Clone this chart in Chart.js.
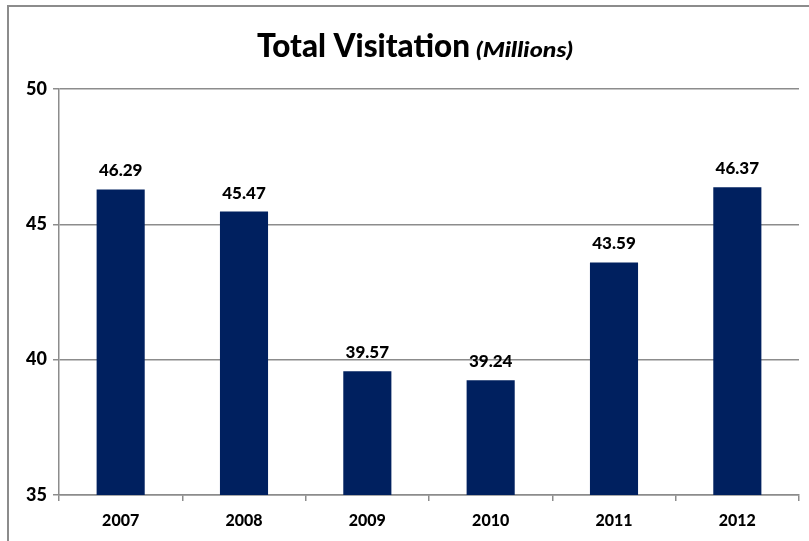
<!DOCTYPE html>
<html>
<head>
<meta charset="utf-8">
<script src="https://cdn.jsdelivr.net/npm/chart.js@4"></script>
<style>
  html, body { margin: 0; padding: 0; background: #fff; }
  #wrap { position: relative; width: 809px; height: 541px; overflow: hidden; }
  #frame { position: absolute; left: 7px; top: 5px; right: -5px; bottom: -5px;
           border-top: 2px solid #8c8c8c; border-left: 2px solid #8c8c8c; }
  canvas { position: absolute; left: 0; top: 0; }
</style>
</head>
<body>
<div id="wrap">
  <div id="frame"></div>
  <canvas id="visitChart" width="809" height="541"></canvas>
</div>
<script>
// chart data
const years = ['2007', '2008', '2009', '2010', '2011', '2012'];
const visitors = [46.29, 45.47, 39.57, 39.24, 43.59, 46.37];
const yTicks = [35, 40, 45, 50];

const FONT = 'Lato, Calibri, "Open Sans", sans-serif';

// title with the italic "(Millions)" part, drawn on the canvas
const titlePlugin = {
    id: 'mixedTitle',
    afterDraw(chart) {
        const ctx = chart.ctx;
        ctx.save();
        ctx.fillStyle = '#000';
        ctx.textBaseline = 'alphabetic';
        // main part
        ctx.font = '900 32px ' + FONT;
        const mainW = ctx.measureText('Total Visitation').width;
        ctx.save();
        ctx.translate(257, 57);
        ctx.scale(213 / mainW, 1);
        ctx.fillText('Total Visitation', 0, 0);
        ctx.restore();
        // italic part, a bit wider like the original
        ctx.font = 'italic 900 21px ' + FONT;
        const subW = ctx.measureText('(Millions)').width;
        ctx.save();
        ctx.translate(476, 57);
        ctx.scale(97 / subW, 1);
        ctx.fillText('(Millions)', 0, 0);
        ctx.restore();
        ctx.restore();
    }
};

// value labels above each bar
const valueLabels = {
    id: 'valueLabels',
    afterDatasetsDraw(chart) {
        const ctx = chart.ctx;
        ctx.save();
        ctx.font = '900 17px ' + FONT;
        ctx.fillStyle = '#000';
        ctx.textAlign = 'center';
        ctx.textBaseline = 'alphabetic';
        chart.getDatasetMeta(0).data.forEach((bar, i) => {
            ctx.fillText(visitors[i].toFixed(2), bar.x, bar.y - 13);
        });
        ctx.restore();
    }
};

new Chart(document.getElementById('visitChart'), {
    type: 'bar',
    data: {
        labels: years,
        datasets: [{
            label: 'Total Visitation',
            data: visitors,
            backgroundColor: '#00205f',
            borderWidth: 0,
            barPercentage: 0.39,
            categoryPercentage: 1.0
        }]
    },
    options: {
        responsive: false,
        animation: false,
        layout: { padding: { left: 0, top: 89, right: 10, bottom: 0 } },
        plugins: {
            legend: { display: false },
            title: { display: false },
            tooltip: { enabled: false }
        },
        scales: {
            y: {
                min: 35,
                max: 50,
                afterFit: (scale) => { scale.width = 59; },
                afterBuildTicks: (scale) => { scale.ticks = yTicks.map(v => ({ value: v })); },
                ticks: {
                    color: '#000',
                    padding: 6,
                    font: { family: FONT, size: 18, weight: '900' }
                },
                grid: {
                    color: '#8c8c8c',
                    lineWidth: 1.5,
                    tickLength: 6
                },
                border: { display: true, color: '#8c8c8c', width: 1.5 }
            },
            x: {
                afterFit: (scale) => { scale.height = 46; },
                ticks: {
                    color: '#000',
                    padding: 10,
                    font: { family: FONT, size: 16, weight: '900' }
                },
                grid: {
                    offset: true,
                    drawOnChartArea: false,
                    drawTicks: true,
                    tickLength: 6,
                    color: '#8c8c8c',
                    lineWidth: 1.5
                },
                border: { display: true, color: '#8c8c8c', width: 1.5 }
            }
        }
    },
    plugins: [titlePlugin, valueLabels]
});
</script>
</body>
</html>
